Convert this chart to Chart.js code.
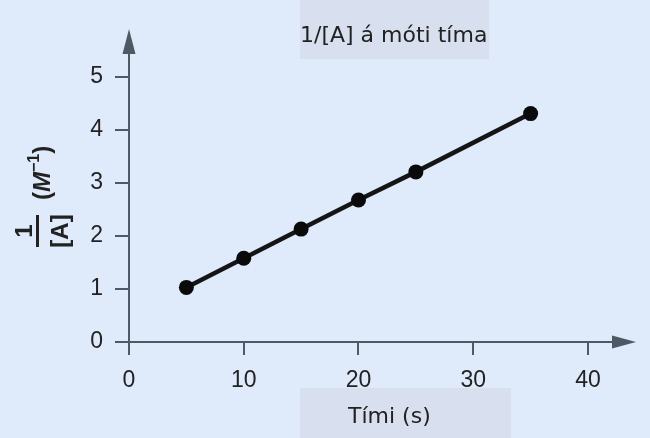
<!DOCTYPE html>
<html>
<head>
<meta charset="utf-8">
<script src="https://cdn.jsdelivr.net/npm/chart.js@4"></script>
<style>
  html, body { margin: 0; padding: 0; background: #dfeafb; }
  #wrap { width: 650px; height: 438px; }
</style>
</head>
<body>
<div id="wrap"><canvas id="graf" width="650" height="438"></canvas></div>
<script>
// gögn
var timi = [5, 10, 15, 20, 25, 35];
var andhverfa = [1.03, 1.58, 2.13, 2.68, 3.21, 4.31];
var xTicks = [0, 10, 20, 30, 40];
var yTicks = [0, 1, 2, 3, 4, 5];
var titill = "1/[A] á móti tíma";
var xTitill = "Tími (s)";

var bg = "#dfeafb";
var boxColor = "#d8e0f0";
var axisColor = "#4d5963";

var skraut = {
  id: "skraut",
  beforeDraw: function (chart) {
    var c = chart.ctx;
    c.save();
    c.fillStyle = bg;
    c.fillRect(0, 0, chart.width, chart.height);
    c.fillStyle = boxColor;
    c.fillRect(300, 0, 189, 59);
    c.fillRect(300, 388, 211, 50);
    c.fillStyle = "#222";
    c.font = "22px 'DejaVu Sans'";
    c.textAlign = "left";
    c.textBaseline = "alphabetic";
    c.fillText(titill, 300, 42);
    c.fillText(xTitill, 348, 423);
    c.restore();
  },
  afterDraw: function (chart) {
    var c = chart.ctx;
    var a = chart.chartArea;
    var x0 = chart.scales.x.getPixelForValue(0);
    var y0 = chart.scales.y.getPixelForValue(0);
    c.save();
    c.fillStyle = axisColor;
    // ör á y-ás
    c.beginPath();
    c.moveTo(x0, 29);
    c.lineTo(x0 - 6.5, a.top + 1);
    c.lineTo(x0 + 6.5, a.top + 1);
    c.closePath();
    c.fill();
    // ör á x-ás
    c.beginPath();
    c.moveTo(636, y0);
    c.lineTo(a.right - 1, y0 - 6.5);
    c.lineTo(a.right - 1, y0 + 6.5);
    c.closePath();
    c.fill();

    // y-ás titill, snúið
    c.translate(40, 231);
    c.rotate(-Math.PI / 2);
    c.fillStyle = "#222";
    c.textBaseline = "alphabetic";
    c.textAlign = "center";
    c.font = "bold 24px 'Liberation Sans'";
    c.fillText("1", 0, -8);
    c.fillText("[A]", 0, 28);
    c.fillRect(-16, -4, 32, 3);
    c.textAlign = "left";
    var u = 31;
    c.font = "bold 24px 'Liberation Sans'";
    c.fillText("(", u, 10);
    u += c.measureText("(").width;
    c.font = "italic bold 24px 'Liberation Sans'";
    c.fillText("M", u, 10);
    u += c.measureText("M").width;
    c.font = "bold 16px 'Liberation Sans'";
    c.fillText("\u22121", u, -1);
    u += c.measureText("\u22121").width;
    c.font = "bold 24px 'Liberation Sans'";
    c.fillText(")", u, 10);
    c.restore();
  }
};

var ctx = document.getElementById("graf").getContext("2d");
var chart = new Chart(ctx, {
  type: "line",
  data: {
    datasets: [
      {
        label: titill,
        data: timi.map(function (t, i) { return { x: t, y: andhverfa[i] }; }),
        borderColor: "#151515",
        backgroundColor: "#0a0a0a",
        borderWidth: 4.5,
        pointRadius: 7.5,
        pointBorderWidth: 0,
        pointHoverRadius: 7.5,
        tension: 0
      }
    ]
  },
  options: {
    responsive: false,
    animation: false,
    events: [],
    layout: { padding: { top: 53, right: 37, bottom: 0, left: 0 } },
    plugins: {
      legend: { display: false },
      tooltip: { enabled: false },
      title: { display: false }
    },
    scales: {
      x: {
        type: "linear",
        min: 0,
        max: 42.18,
        afterFit: function (s) { s.height = 96; },
        afterBuildTicks: function (s) { s.ticks = xTicks.map(function (v) { return { value: v }; }); },
        grid: { drawOnChartArea: false, drawTicks: true, tickLength: 13, color: axisColor, lineWidth: 2 },
        border: { display: true, color: axisColor, width: 2 },
        ticks: { color: "#222", font: { family: "'Liberation Sans'", size: 23 }, padding: 12, maxRotation: 0 }
      },
      y: {
        min: 0,
        max: 5.453,
        afterFit: function (s) { s.width = 129; },
        afterBuildTicks: function (s) { s.ticks = yTicks.map(function (v) { return { value: v }; }); },
        grid: { drawOnChartArea: false, drawTicks: true, tickLength: 14, color: axisColor, lineWidth: 2 },
        border: { display: true, color: axisColor, width: 2 },
        ticks: { color: "#222", font: { family: "'Liberation Sans'", size: 23 }, padding: 12 }
      }
    }
  },
  plugins: [skraut]
});
</script>
</body>
</html>
